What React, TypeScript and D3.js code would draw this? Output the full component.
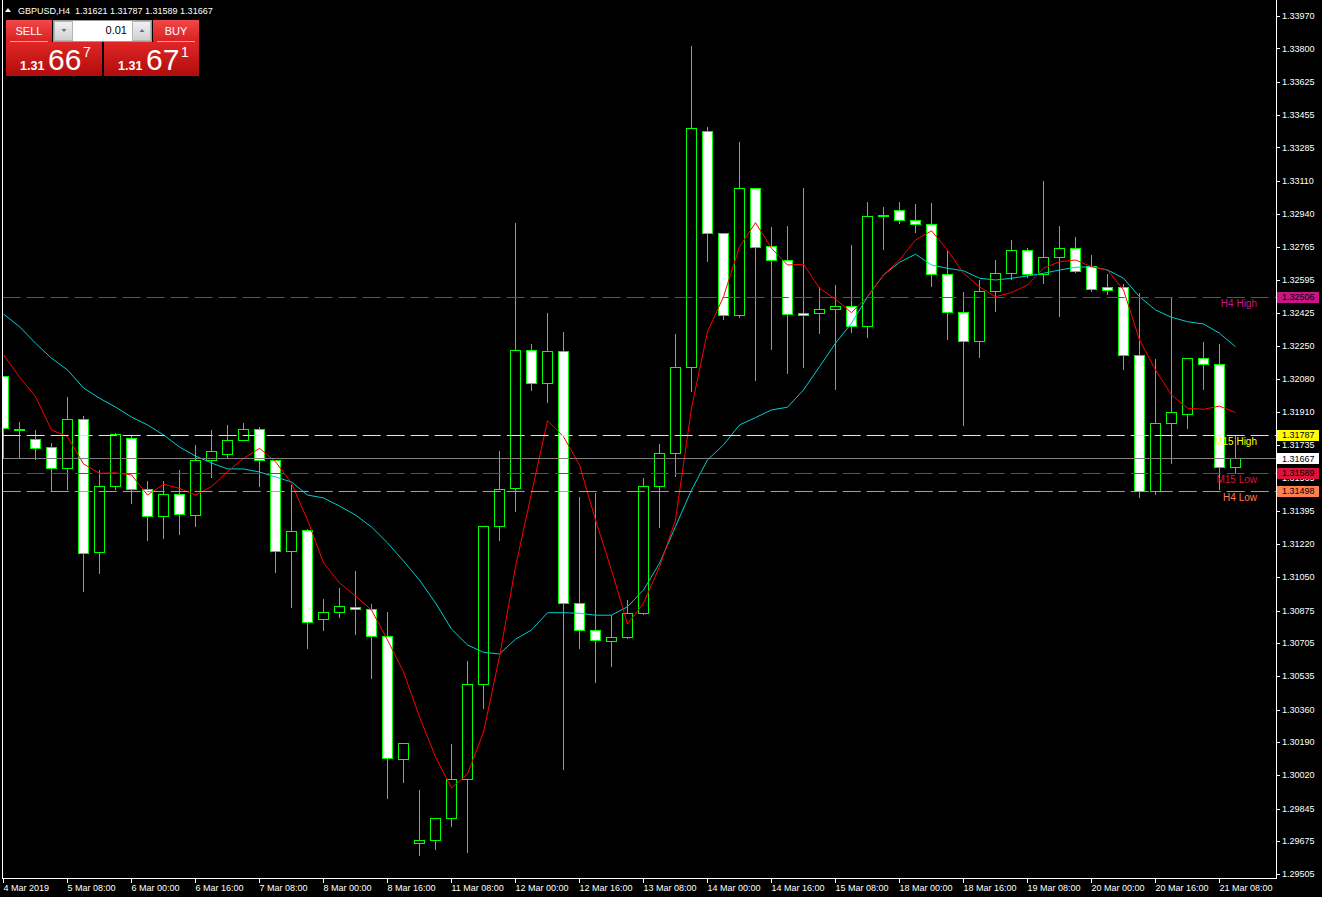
import { useEffect, useRef } from "react";
import * as d3 from "d3";

const W = 1322;
const H = 897;

// GBPUSD H4 bars (index 0 = leftmost bar)
const opens = [
  1.32096, 1.31818, 1.31766, 1.31725, 1.31615, 1.3187, 1.31178, 1.31522, 1.31771, 1.31506,
  1.31366, 1.3148, 1.31371, 1.31659, 1.31688, 1.31761, 1.31818, 1.31657, 1.31184, 1.31293,
  1.3083, 1.30866, 1.30895, 1.30882, 1.30741, 1.30101, 1.29664, 1.2968, 1.29794, 1.29997,
  1.30493, 1.31314, 1.31511, 1.32229, 1.32058, 1.32224, 1.30913, 1.30773, 1.30715, 1.30736,
  1.30861, 1.31522, 1.31693, 1.32141, 1.33369, 1.32838, 1.32411, 1.33072, 1.3277, 1.32697,
  1.32422, 1.32422, 1.32443, 1.32458, 1.32354, 1.32926, 1.32958, 1.32906, 1.32885, 1.32625,
  1.32427, 1.32276, 1.32536, 1.3263, 1.3275, 1.32625, 1.32713, 1.3276, 1.32666, 1.32557,
  1.32557, 1.32203, 1.31496, 1.31849, 1.31896, 1.32188, 1.32156, 1.31621,
];
const highs = [
  1.321, 1.31861, 1.3182, 1.31752, 1.31992, 1.31893, 1.31613, 1.31804, 1.31794, 1.31555,
  1.31555, 1.31612, 1.31742, 1.3182, 1.31846, 1.31856, 1.31835, 1.31657, 1.31534, 1.31305,
  1.30941, 1.30998, 1.31086, 1.30913, 1.30873, 1.3019, 1.29947, 1.29796, 1.30186, 1.30618,
  1.31316, 1.31711, 1.32897, 1.32266, 1.32429, 1.3233, 1.31471, 1.31492, 1.30856, 1.30935,
  1.3157, 1.31747, 1.32319, 1.33818, 1.33396, 1.32846, 1.33318, 1.33072, 1.32876, 1.32881,
  1.33077, 1.32564, 1.32574, 1.32782, 1.33004, 1.3298, 1.33004, 1.32994, 1.32999, 1.32751,
  1.32536, 1.32599, 1.32703, 1.32808, 1.32765, 1.33115, 1.32881, 1.32822, 1.32729, 1.3263,
  1.32578, 1.32531, 1.32188, 1.32508, 1.32188, 1.32276, 1.32266, 1.31787,
];
const lows = [
  1.31669, 1.31671, 1.31662, 1.31502, 1.31508, 1.30979, 1.31072, 1.31509, 1.31436, 1.31242,
  1.31254, 1.31275, 1.31317, 1.31569, 1.31673, 1.31761, 1.31523, 1.31077, 1.30892, 1.30682,
  1.30776, 1.30843, 1.30755, 1.30526, 1.29902, 1.29985, 1.29605, 1.29636, 1.29756, 1.29621,
  1.3037, 1.31242, 1.31395, 1.32023, 1.31962, 1.30051, 1.30682, 1.30502, 1.30588, 1.30734,
  1.30859, 1.31312, 1.31575, 1.32019, 1.32695, 1.32394, 1.32404, 1.32075, 1.32238, 1.32113,
  1.32144, 1.32321, 1.32029, 1.32326, 1.323, 1.32758, 1.32893, 1.32846, 1.32565, 1.32286,
  1.31842, 1.32196, 1.32435, 1.326, 1.32609, 1.32581, 1.32409, 1.32635, 1.32539, 1.32524,
  1.3213, 1.31465, 1.3148, 1.31641, 1.31824, 1.32029, 1.31506, 1.31589,
];
const closes = [
  1.31824, 1.31822, 1.31719, 1.31615, 1.3187, 1.31173, 1.31522, 1.31792, 1.31506, 1.31366,
  1.3148, 1.31376, 1.31659, 1.31704, 1.31761, 1.31818, 1.31657, 1.31184, 1.31288, 1.30814,
  1.30866, 1.30897, 1.30883, 1.30741, 1.30107, 1.30185, 1.2968, 1.29794, 1.29997, 1.30492,
  1.31314, 1.31506, 1.32229, 1.32058, 1.32224, 1.30913, 1.30773, 1.30721, 1.30736, 1.30861,
  1.31523, 1.31693, 1.32141, 1.33384, 1.32838, 1.32411, 1.33072, 1.32765, 1.32697, 1.32417,
  1.32411, 1.32443, 1.32458, 1.32354, 1.32926, 1.32933, 1.32906, 1.32885, 1.32625, 1.32427,
  1.32276, 1.32536, 1.3263, 1.3275, 1.32625, 1.32713, 1.3276, 1.3264, 1.32547, 1.32541,
  1.32203, 1.31499, 1.31849, 1.31907, 1.32188, 1.32156, 1.31621, 1.31667,
];

// moving averages as drawn (red = fast, cyan = slow)
const maFast = [
  1.32205, 1.3209, 1.31988, 1.31815, 1.3178, 1.31638, 1.31589, 1.31592, 1.31581, 1.31476,
  1.31532, 1.31511, 1.31476, 1.3152, 1.31598, 1.31667, 1.31719, 1.3165, 1.31537, 1.31346,
  1.31123, 1.31019, 1.30951, 1.30878, 1.30722, 1.30556, 1.30322, 1.30113, 1.29952, 1.30025,
  1.30243, 1.30635, 1.31103, 1.31485, 1.31863, 1.3178, 1.31633, 1.31346, 1.31086, 1.30805,
  1.30913, 1.31103, 1.31346, 1.31929, 1.32326, 1.32508, 1.32768, 1.32893, 1.3276, 1.32673,
  1.32677, 1.32552, 1.32495, 1.32425, 1.32508, 1.32621, 1.32699, 1.32803, 1.32851, 1.32751,
  1.3263, 1.32559, 1.32508, 1.32529, 1.32569, 1.32656, 1.3269, 1.32699, 1.32664, 1.32647,
  1.32543, 1.32283, 1.32127, 1.31997, 1.31928, 1.31922, 1.31939, 1.31905,
];
const maSlow = [
  1.32418, 1.32352, 1.32266, 1.32188, 1.32127, 1.32033, 1.3198, 1.31934, 1.31882, 1.31841,
  1.31789, 1.31726, 1.31679, 1.31643, 1.31612, 1.31612, 1.31596, 1.3157, 1.31544, 1.31476,
  1.31461, 1.31419, 1.31372, 1.3131, 1.31227, 1.31133, 1.31034, 1.30915, 1.30779, 1.30696,
  1.30658, 1.30649, 1.30726, 1.30774, 1.30864, 1.30864, 1.30861, 1.30851, 1.30851, 1.30895,
  1.30982, 1.31121, 1.31312, 1.31502, 1.31659, 1.31737, 1.31841, 1.31879, 1.31919, 1.31933,
  1.32023, 1.32144, 1.32266, 1.3237, 1.32508, 1.32621, 1.32687, 1.32729, 1.32673, 1.32656,
  1.32643, 1.32604, 1.32595, 1.32604, 1.32616, 1.3263, 1.32647, 1.32661, 1.32664, 1.32647,
  1.32604, 1.32508, 1.32439, 1.32401, 1.32378, 1.32366, 1.32318, 1.32248,
];

const priceTicks = [
  1.3397, 1.338, 1.33625, 1.33455, 1.33285, 1.3311, 1.3294, 1.32765, 1.32595, 1.32425,
  1.3225, 1.3208, 1.3191, 1.31735, 1.31565, 1.31395, 1.3122, 1.3105, 1.30875, 1.30705,
  1.30535, 1.3036, 1.3019, 1.3002, 1.29845, 1.29675, 1.29505,
];

const dateTickIdx = [0, 4, 8, 12, 16, 20, 24, 28, 32, 36, 40, 44, 48, 52, 56, 60, 64, 68, 72, 76];
const dateTickText = [
  "4 Mar 2019", "5 Mar 08:00", "6 Mar 00:00", "6 Mar 16:00", "7 Mar 08:00",
  "8 Mar 00:00", "8 Mar 16:00", "11 Mar 08:00", "12 Mar 00:00", "12 Mar 16:00",
  "13 Mar 08:00", "14 Mar 00:00", "14 Mar 16:00", "15 Mar 08:00", "18 Mar 00:00",
  "18 Mar 16:00", "19 Mar 08:00", "20 Mar 00:00", "20 Mar 16:00", "21 Mar 08:00",
];

const levelNames = ["H4 High", "M15 High", "M15 Low", "H4 Low"];
const levelPrices = [1.32506, 1.31787, 1.31589, 1.31498];
const levelColors = ["#c71585", "#ffff00", "#dc143c", "#ff7f50"];

const bidPrice = 1.31667;
const header = "GBPUSD,H4  1.31621 1.31787 1.31589 1.31667";

const FONT = "'Liberation Sans', Arial, sans-serif";

export default function App() {
  const svgRef = useRef<SVGSVGElement>(null);

  useEffect(() => {
    document.body.style.margin = "0";
    document.body.style.background = "#000";
    if (!svgRef.current) return;
    const svg = d3.select(svgRef.current);
    svg.selectAll("*").remove();

    const plotRight = 1276;
    const plotBottom = 878;

    const x = d3.scaleLinear().domain([0, opens.length - 1]).range([3, 1235]);
    const y = d3.scaleLinear().domain([1.29505, 1.3397]).range([873.9, 15.7]);
    const py = (p: number) => Math.round(y(p)) + 0.5;

    const defs = svg.append("defs");
    defs
      .append("clipPath")
      .attr("id", "plot")
      .append("rect")
      .attr("x", 3)
      .attr("y", 0)
      .attr("width", plotRight - 3)
      .attr("height", plotBottom);

    const gradTop = defs.append("linearGradient").attr("id", "btnTop").attr("x1", 0).attr("y1", 0).attr("x2", 0).attr("y2", 1);
    gradTop.append("stop").attr("offset", "0%").attr("stop-color", "#f04848");
    gradTop.append("stop").attr("offset", "100%").attr("stop-color", "#d82020");
    const gradBot = defs.append("linearGradient").attr("id", "btnBot").attr("x1", 0).attr("y1", 0).attr("x2", 0).attr("y2", 1);
    gradBot.append("stop").attr("offset", "0%").attr("stop-color", "#e02626");
    gradBot.append("stop").attr("offset", "100%").attr("stop-color", "#b00c0c");
    const gradGrey = defs.append("linearGradient").attr("id", "btnGrey").attr("x1", 0).attr("y1", 0).attr("x2", 0).attr("y2", 1);
    gradGrey.append("stop").attr("offset", "0%").attr("stop-color", "#f2f2f2");
    gradGrey.append("stop").attr("offset", "100%").attr("stop-color", "#cfcfcf");

    svg.append("rect").attr("width", W).attr("height", H).attr("fill", "#000");

    const plot = svg.append("g").attr("clip-path", "url(#plot)");

    // candles
    const data = opens.map((o, i) => ({ i, o, h: highs[i], l: lows[i], c: closes[i] }));
    const cg = plot.append("g").attr("shape-rendering", "crispEdges");
    cg.selectAll("line.wick")
      .data(data)
      .join("line")
      .attr("class", "wick")
      .attr("x1", (d) => x(d.i) + 0.5)
      .attr("x2", (d) => x(d.i) + 0.5)
      .attr("y1", (d) => py(d.h))
      .attr("y2", (d) => py(d.l))
      .attr("stroke", "#00ff00")
      .attr("stroke-width", 1);
    cg.selectAll("rect.body")
      .data(data)
      .join("rect")
      .attr("class", "body")
      .attr("x", (d) => x(d.i) - 4.5)
      .attr("width", 10)
      .attr("y", (d) => py(Math.max(d.o, d.c)))
      .attr("height", (d) => Math.max(1, py(Math.min(d.o, d.c)) - py(Math.max(d.o, d.c))))
      .attr("fill", (d) => (d.c >= d.o ? "#000" : "#fff"))
      .attr("stroke", "#00ff00")
      .attr("stroke-width", 1);

    // moving averages
    const line = d3
      .line<number>()
      .x((_, i) => x(i) + 0.5)
      .y((d) => y(d));
    plot.append("path").attr("d", line(maSlow)).attr("fill", "none").attr("stroke", "#00ced1").attr("stroke-width", 1);
    plot.append("path").attr("d", line(maFast)).attr("fill", "none").attr("stroke", "#ff0000").attr("stroke-width", 1);

    // current price line
    plot
      .append("line")
      .attr("x1", 3)
      .attr("x2", plotRight)
      .attr("y1", py(bidPrice))
      .attr("y2", py(bidPrice))
      .attr("stroke", "#808080")
      .attr("stroke-width", 1);

    // level lines + captions
    levelPrices.forEach((p, k) => {
      plot
        .append("line")
        .attr("x1", 2.7)
        .attr("x2", plotRight)
        .attr("y1", py(p))
        .attr("y2", py(p))
        .attr("stroke", levelColors[k])
        .attr("stroke-width", 1)
        .attr("stroke-dasharray", "18,6");
      plot
        .append("text")
        .attr("x", 1257)
        .attr("y", y(p) + 10)
        .attr("text-anchor", "end")
        .attr("font-family", FONT)
        .attr("font-size", 10)
        .attr("fill", levelColors[k])
        .text(levelNames[k]);
    });

    // frame
    const frame = svg.append("g").attr("stroke", "#fff").attr("shape-rendering", "crispEdges");
    frame.append("line").attr("x1", 2.5).attr("x2", 2.5).attr("y1", 0).attr("y2", plotBottom + 0.5);
    frame.append("line").attr("x1", plotRight + 0.5).attr("x2", plotRight + 0.5).attr("y1", 0).attr("y2", plotBottom + 0.5);
    frame.append("line").attr("x1", 2).attr("x2", plotRight + 1).attr("y1", plotBottom + 0.5).attr("y2", plotBottom + 0.5);

    // price axis
    const ax = svg.append("g");
    priceTicks.forEach((p) => {
      ax.append("line")
        .attr("x1", plotRight + 1)
        .attr("x2", plotRight + 4)
        .attr("y1", py(p))
        .attr("y2", py(p))
        .attr("stroke", "#fff")
        .attr("shape-rendering", "crispEdges");
      ax.append("text")
        .attr("x", 1282)
        .attr("y", y(p))
        .attr("dy", "0.35em")
        .attr("font-family", FONT)
        .attr("font-size", 9)
        .attr("fill", "#fff")
        .text(p.toFixed(5));
    });

    const tag = (p: number, bg: string) => {
      ax.append("rect")
        .attr("x", 1277)
        .attr("y", Math.round(y(p)) - 5)
        .attr("width", 42)
        .attr("height", 11)
        .attr("fill", bg);
      ax.append("text")
        .attr("x", 1282)
        .attr("y", y(p))
        .attr("dy", "0.35em")
        .attr("font-family", FONT)
        .attr("font-size", 9)
        .attr("fill", "#000")
        .text(p.toFixed(5));
    };
    levelPrices.forEach((p, k) => tag(p, levelColors[k]));
    tag(bidPrice, "#fff");

    // time axis
    const tx = svg.append("g");
    dateTickIdx.forEach((idx, k) => {
      const xx = Math.round(x(idx)) + 0.5;
      tx.append("line")
        .attr("x1", xx)
        .attr("x2", xx)
        .attr("y1", plotBottom + 1)
        .attr("y2", plotBottom + 5)
        .attr("stroke", "#fff")
        .attr("shape-rendering", "crispEdges");
      tx.append("text")
        .attr("x", xx)
        .attr("y", 891)
        .attr("font-family", FONT)
        .attr("font-size", 9)
        .attr("fill", "#fff")
        .text(dateTickText[k]);
    });

    // header
    svg.append("path").attr("d", "M5,12 L8,8 L11,12 Z").attr("fill", "#fff");
    svg.append("text")
      .attr("x", 18)
      .attr("y", 14)
      .attr("font-family", FONT)
      .attr("font-size", 9)
      .attr("fill", "#fff")
      .attr("xml:space", "preserve")
      .style("white-space", "pre")
      .text(header);

    // one-click trading panel
    const panel = svg.append("g").attr("font-family", FONT);
    const topBtn = (x0: number, w: number, label: string) => {
      panel.append("rect").attr("x", x0).attr("y", 20).attr("width", w).attr("height", 22).attr("fill", "url(#btnTop)");
      panel.append("line")
        .attr("x1", x0 + 4).attr("x2", x0 + w - 4).attr("y1", 41.5).attr("y2", 41.5)
        .attr("stroke", "#ff9a9a").attr("shape-rendering", "crispEdges");
      panel.append("text")
        .attr("x", x0 + w / 2).attr("y", 35).attr("text-anchor", "middle")
        .attr("font-size", 11).attr("fill", "#fff").text(label);
    };
    topBtn(6, 46, "SELL");
    topBtn(153, 46, "BUY");

    panel.append("rect").attr("x", 53.5).attr("y", 20.5).attr("width", 98).attr("height", 21)
      .attr("fill", "#fff").attr("stroke", "#9a9a9a").attr("shape-rendering", "crispEdges");
    panel.append("rect").attr("x", 54.5).attr("y", 21.5).attr("width", 18).attr("height", 19)
      .attr("fill", "url(#btnGrey)").attr("stroke", "#b5b5b5").attr("shape-rendering", "crispEdges");
    panel.append("rect").attr("x", 132.5).attr("y", 21.5).attr("width", 18).attr("height", 19)
      .attr("fill", "url(#btnGrey)").attr("stroke", "#b5b5b5").attr("shape-rendering", "crispEdges");
    panel.append("path").attr("d", "M61.5,29 L66.5,29 L64,32 Z").attr("fill", "#5a6fa8");
    panel.append("path").attr("d", "M139.5,32 L144.5,32 L142,29 Z").attr("fill", "#5a6fa8");
    panel.append("text").attr("x", 127).attr("y", 34).attr("text-anchor", "end")
      .attr("font-size", 11).attr("fill", "#000").text("0.01");

    const priceBtn = (x0: number, w: number, big: string, small: string) => {
      panel.append("rect").attr("x", x0).attr("y", 42).attr("width", w).attr("height", 34).attr("fill", "url(#btnBot)");
      panel.append("text").attr("x", x0 + 14).attr("y", 70)
        .attr("font-size", 12.5).attr("font-weight", "bold").attr("fill", "#fff").text("1.31");
      panel.append("text").attr("x", x0 + 42).attr("y", 70)
        .attr("font-size", 30).attr("fill", "#fff").text(big);
      panel.append("text").attr("x", x0 + 77).attr("y", 57)
        .attr("font-size", 14).attr("fill", "#fff").text(small);
    };
    priceBtn(6, 96, "66", "7");
    priceBtn(104, 95, "67", "1");
  }, []);

  return (
    <svg
      ref={svgRef}
      width={W}
      height={H}
      style={{ display: "block", background: "#000" }}
    />
  );
}
